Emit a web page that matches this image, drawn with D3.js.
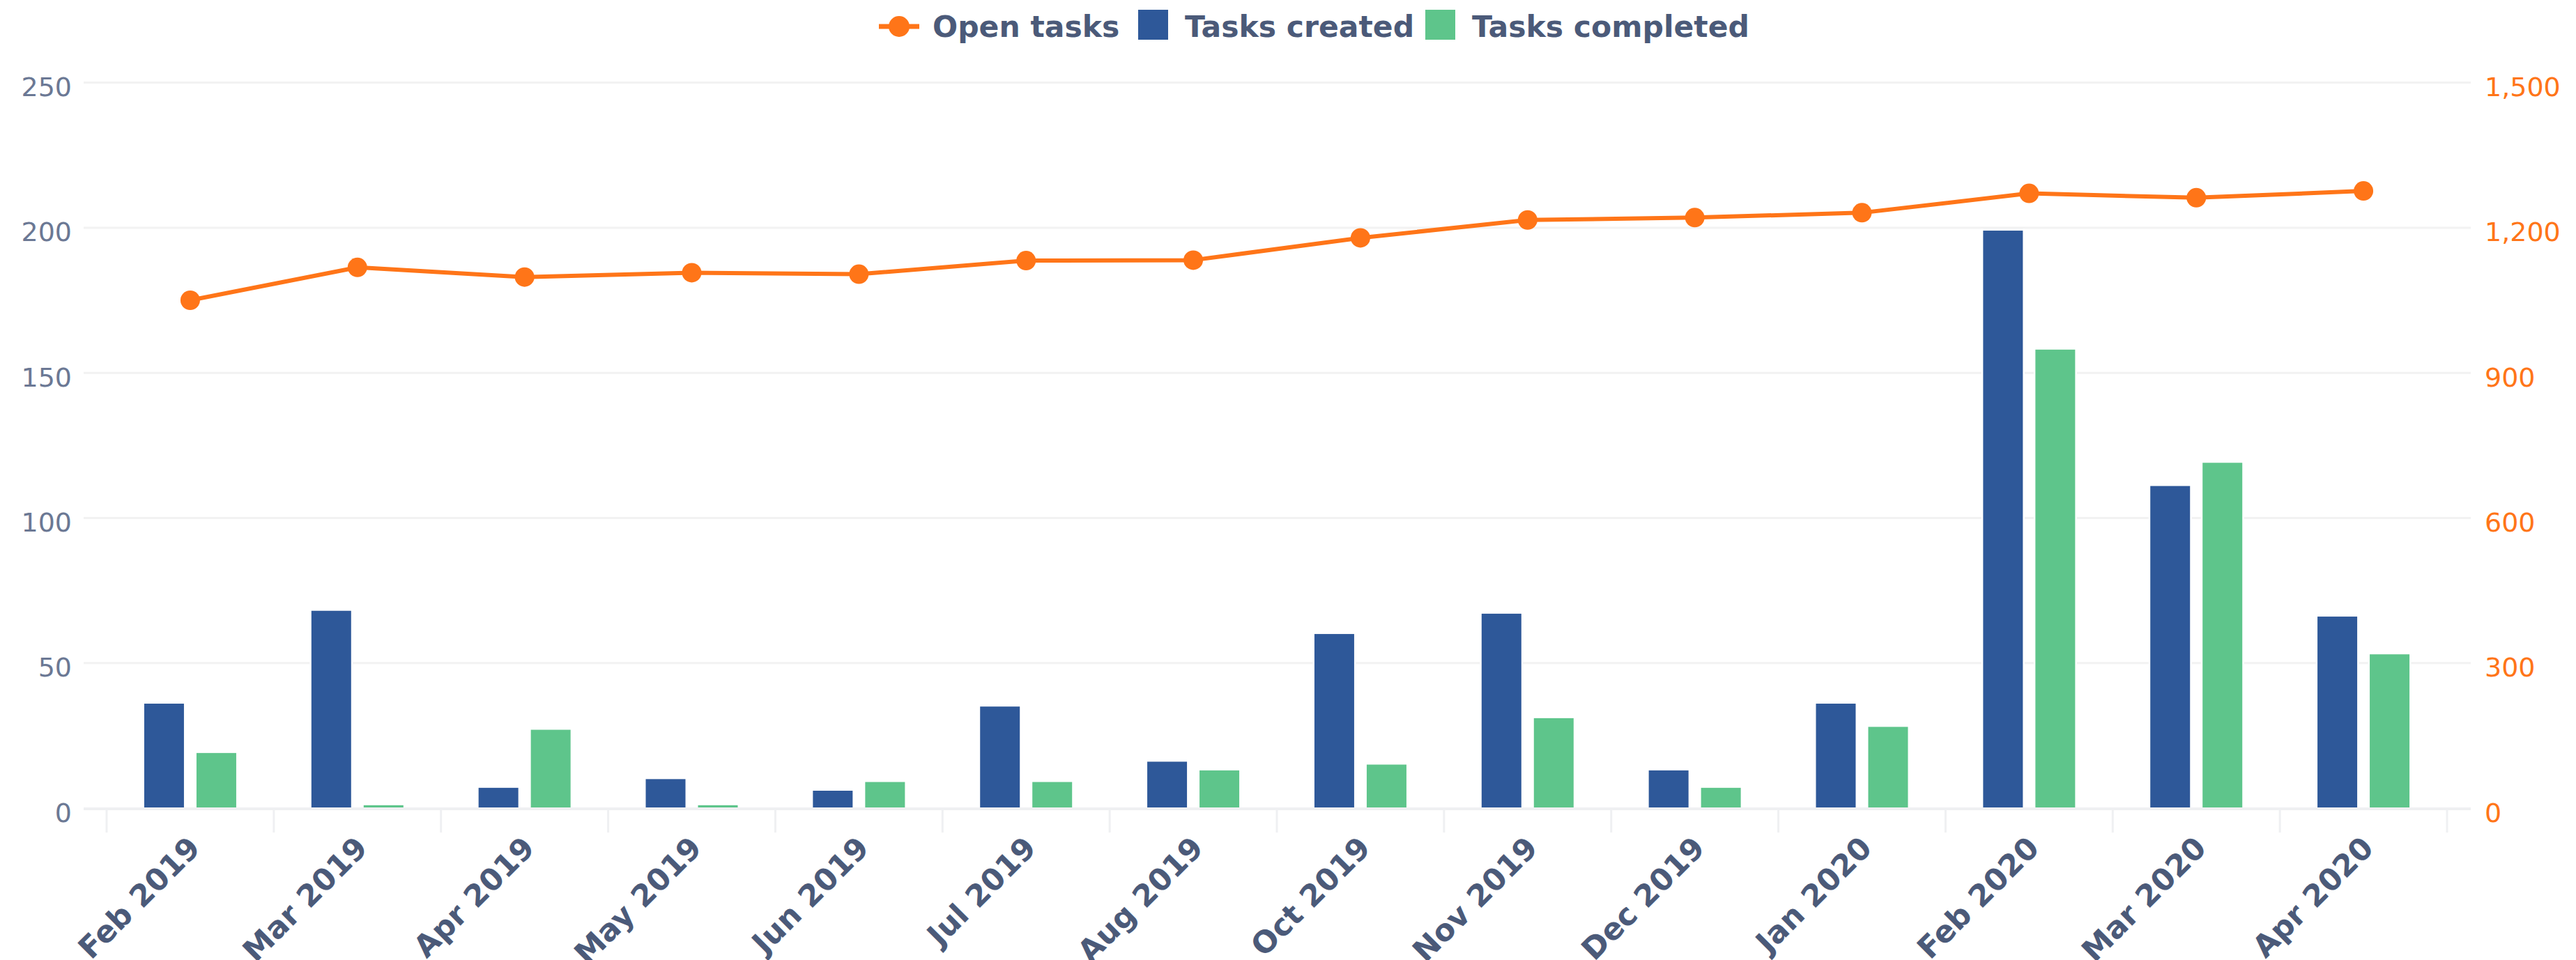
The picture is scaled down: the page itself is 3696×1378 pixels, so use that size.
<!DOCTYPE html>
<html>
<head>
<meta charset="utf-8">
<script src="https://cdn.jsdelivr.net/npm/d3@7"></script>
<style>
  body { margin: 0; background: #fff; }
  text { font-family: "DejaVu Sans", sans-serif; }
</style>
</head>
<body>
<div id="chart"></div>
<script>
var months = ["Feb 2019", "Mar 2019", "Apr 2019", "May 2019", "Jun 2019", "Jul 2019", "Aug 2019",
              "Oct 2019", "Nov 2019", "Dec 2019", "Jan 2020", "Feb 2020", "Mar 2020", "Apr 2020"];
var tasksCreated   = [36, 68, 7, 10, 6, 35, 16, 60, 67, 13, 36, 199, 111, 66];
var tasksCompleted = [19, 1, 27, 1, 9, 9, 13, 15, 31, 7, 28, 158, 119, 53];
var openTasks      = [1050, 1118, 1098, 1107, 1104, 1132, 1133, 1179, 1216, 1221, 1231, 1271, 1262, 1276];
var leftTicks  = [0, 50, 100, 150, 200, 250];
var rightTicks = [0, 300, 600, 900, 1200, 1500];

var width = 3696, height = 1378;
var blue = "#2e5899", green = "#5ec58b", orange = "#ff7518";
var textDark = "#4b5a79", textLight = "#6b7894";

var svg = d3.select("#chart").append("svg")
    .attr("width", width)
    .attr("height", height);

var gridLeft = 120, gridRight = 3545;
var plotTop = 118.6, plotBottom = 1160;

var x = d3.scaleBand().domain(months).range([153, 3511]);
var yL = d3.scaleLinear().domain([0, 250]).range([plotBottom, plotTop]);
var yR = d3.scaleLinear().domain([0, 1500]).range([plotBottom, plotTop]);

// grid lines
svg.append("g")
  .selectAll("line")
  .data(leftTicks.slice(1))
  .enter().append("line")
    .attr("x1", gridLeft).attr("x2", gridRight)
    .attr("y1", function(d) { return yL(d); })
    .attr("y2", function(d) { return yL(d); })
    .attr("stroke", "#f2f2f2")
    .attr("stroke-width", 3);

// bars
var series = [
  {key: "created", values: tasksCreated, color: blue},
  {key: "completed", values: tasksCompleted, color: green}
];
var groupW = 132;
var x1 = d3.scaleBand().domain(series.map(function(s) { return s.key; }))
    .range([0, groupW]).paddingInner(18 / 75);

series.forEach(function(s) {
  svg.append("g")
    .selectAll("rect")
    .data(s.values)
    .enter().append("rect")
      .attr("x", function(d, i) { return x(months[i]) + x.bandwidth() / 2 - groupW / 2 + x1(s.key); })
      .attr("y", function(d) { return yL(d); })
      .attr("width", x1.bandwidth())
      .attr("height", function(d) { return plotBottom - yL(d); })
      .attr("fill", s.color)
      .attr("stroke", "#fff")
      .attr("stroke-width", 5)
      .style("paint-order", "stroke");
});

// x axis line and ticks
svg.append("line")
  .attr("x1", gridLeft).attr("x2", gridRight)
  .attr("y1", plotBottom + 1).attr("y2", plotBottom + 1)
  .attr("stroke", "#eff0f2")
  .attr("stroke-width", 4);

var boundaries = months.map(function(m) { return x(m); }).concat([x.range()[1]]);
svg.append("g")
  .selectAll("line")
  .data(boundaries)
  .enter().append("line")
    .attr("x1", function(d) { return d; })
    .attr("x2", function(d) { return d; })
    .attr("y1", plotBottom + 3).attr("y2", plotBottom + 35)
    .attr("stroke", "#eff0f2")
    .attr("stroke-width", 3);

var xAxis = svg.append("g")
    .attr("transform", "translate(0," + plotBottom + ")")
    .call(d3.axisBottom(x).tickSize(0));
xAxis.select(".domain").remove();
xAxis.selectAll("text")
    .attr("font-size", "43.5px")
    .attr("font-weight", "bold")
    .attr("fill", textDark)
    .attr("text-anchor", "end")
    .attr("y", 0)
    .attr("dy", "0.35em")
    .attr("transform", "translate(6,49) rotate(-45)");

// left axis
var leftAxis = svg.append("g")
    .attr("transform", "translate(103,0)")
    .call(d3.axisLeft(yL).tickValues(leftTicks).tickSize(0).tickPadding(0));
leftAxis.select(".domain").remove();
leftAxis.selectAll("text")
    .attr("font-size", "38px")
    .attr("dy", 19)
    .attr("fill", textLight);

// right axis
var rightAxis = svg.append("g")
    .attr("transform", "translate(3565,0)")
    .call(d3.axisRight(yR).tickValues(rightTicks).tickSize(0).tickPadding(0).tickFormat(d3.format(",")));
rightAxis.select(".domain").remove();
rightAxis.selectAll("text")
    .attr("font-size", "38px")
    .attr("dy", 19)
    .attr("fill", orange);

// open tasks line
var line = d3.line()
    .x(function(d, i) { return x(months[i]) + x.bandwidth() / 2; })
    .y(function(d) { return yR(d); });

svg.append("path")
  .datum(openTasks)
  .attr("d", line)
  .attr("fill", "none")
  .attr("stroke", orange)
  .attr("stroke-width", 6)
  .attr("stroke-linejoin", "round");

svg.append("g")
  .selectAll("circle")
  .data(openTasks)
  .enter().append("circle")
    .attr("cx", function(d, i) { return x(months[i]) + x.bandwidth() / 2; })
    .attr("cy", function(d) { return yR(d); })
    .attr("r", 14)
    .attr("fill", orange);

// legend
var legend = svg.append("g");
legend.append("line")
  .attr("x1", 1261).attr("x2", 1319)
  .attr("y1", 38).attr("y2", 38)
  .attr("stroke", orange).attr("stroke-width", 7);
legend.append("circle")
  .attr("cx", 1290).attr("cy", 38).attr("r", 15)
  .attr("fill", orange);
legend.append("rect")
  .attr("x", 1633).attr("y", 14).attr("width", 43).attr("height", 43)
  .attr("fill", blue);
legend.append("rect")
  .attr("x", 2045).attr("y", 14).attr("width", 43).attr("height", 43)
  .attr("fill", green);

var legendTexts = [
  {label: "Open tasks", x: 1338},
  {label: "Tasks created", x: 1700},
  {label: "Tasks completed", x: 2112}
];
legend.selectAll("text")
  .data(legendTexts)
  .enter().append("text")
    .attr("x", function(d) { return d.x; })
    .attr("y", 38)
    .attr("dy", "0.35em")
    .attr("font-size", "42.5px")
    .attr("font-weight", "bold")
    .attr("fill", textDark)
    .text(function(d) { return d.label; });
</script>
</body>
</html>
